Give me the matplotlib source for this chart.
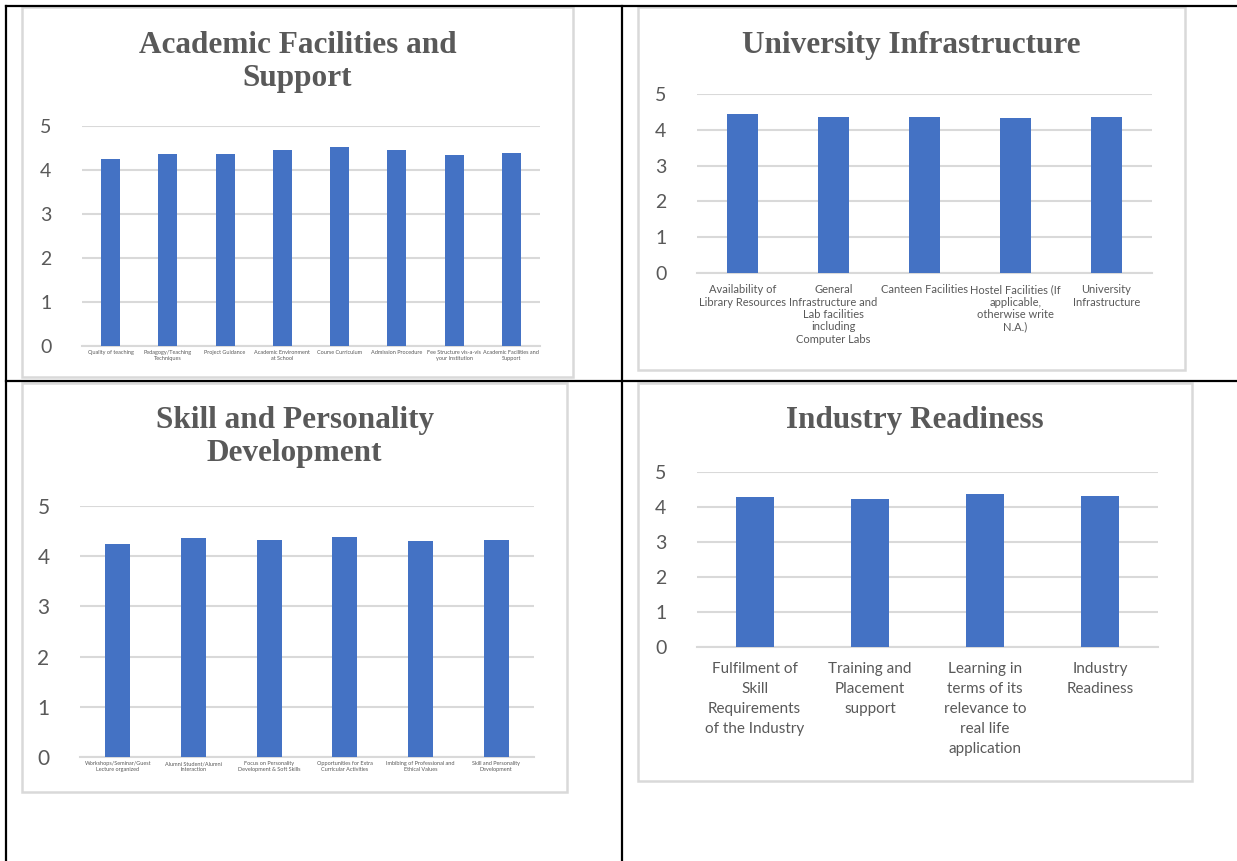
import matplotlib
matplotlib.use("Agg")
import matplotlib.pyplot as plt
from matplotlib.patches import Rectangle
from matplotlib.lines import Line2D

W, H = 1237, 861

# ---- data ----
acad_labels = ["Quality of teaching", "Pedagogy/Teaching\nTechniques", "Project Guidance",
               "Academic Environment\nat School", "Course Curriculum", "Admission Procedure",
               "Fee Structure vis-a-vis\nyour Institution", "Academic Facilities and\nSupport"]
acad_values = [4.25, 4.36, 4.36, 4.45, 4.53, 4.45, 4.33, 4.39]

infra_labels = ["Availability of\nLibrary Resources",
                "General\nInfrastructure and\nLab facilities\nincluding\nComputer Labs",
                "Canteen Facilities",
                "Hostel Facilities (If\napplicable,\notherwise write\nN.A.)",
                "University\nInfrastructure"]
infra_values = [4.44, 4.36, 4.36, 4.33, 4.36]

skill_labels = ["Workshops/Seminar/Guest\nLecture organized", "Alumni Student/Alumni\nInteraction",
                "Focus on Personality\nDevelopment & Soft Skills", "Opportunities for Extra\nCurricular Activities",
                "Imbibing of Professional and\nEthical Values", "Skill and Personality\nDevelopment"]
skill_values = [4.24, 4.36, 4.32, 4.38, 4.30, 4.32]

ind_labels = ["Fulfilment of\nSkill\nRequirements\nof the Industry", "Training and\nPlacement\nsupport",
              "Learning in\nterms of its\nrelevance to\nreal life\napplication", "Industry\nReadiness"]
ind_values = [4.29, 4.23, 4.37, 4.31]

BAR = "#4472C4"
GRID = "#D9D9D9"
TXT = "#595959"

fig = plt.figure(figsize=(W / 100, H / 100), dpi=100)
fig.patch.set_facecolor("white")


def fx(x):
    return x / W


def fy(y):
    return 1 - y / H


# table lines
for (x0, y0, x1, y1) in [(6, 6, 1237, 6), (6, 6, 6, 861), (622, 6, 622, 861), (6, 381, 1237, 381)]:
    fig.add_artist(Line2D([fx(x0), fx(x1)], [fy(y0), fy(y1)], color="black", lw=1.6))


def chart(box, plot, title, title_y, labels, values, ytick_size, xtick_size, label_pad, xls):
    bx0, by0, bx1, by1 = box
    fig.add_artist(Rectangle((fx(bx0), fy(by1)), fx(bx1 - bx0), (by1 - by0) / H,
                             fill=False, edgecolor=GRID, lw=1.8))
    fig.text(fx((bx0 + bx1) / 2), fy(title_y), title, ha="center", va="top",
             family="Liberation Serif", weight="bold", fontsize=22.5, color=TXT,
             linespacing=1.2)
    px0, py0, px1, py1 = plot
    ax = fig.add_axes([fx(px0), fy(py1), fx(px1 - px0), (py1 - py0) / H])
    x = range(len(values))
    ax.bar(x, values, width=0.33, color=BAR, zorder=3)
    ax.set_xlim(-0.5, len(values) - 0.5)
    ax.set_ylim(0, 5)
    ax.set_yticks(range(6))
    ax.yaxis.grid(True, color=GRID, lw=1.5, zorder=0)
    for s in ["top", "right", "left"]:
        ax.spines[s].set_visible(False)
    ax.spines["bottom"].set_color(GRID)
    ax.spines["bottom"].set_linewidth(1.5)
    ax.set_xticks(list(x))
    ax.set_xticklabels(labels, fontsize=xtick_size, color=TXT, family="Lato", linespacing=xls)
    ax.tick_params(axis="both", length=0)
    ax.tick_params(axis="x", pad=label_pad)
    ax.tick_params(axis="y", labelsize=ytick_size, labelcolor=TXT, pad=22)
    for t in ax.get_yticklabels():
        t.set_family("Lato")
    ax.set_facecolor("none")
    return ax


chart((22, 7, 573, 377), (82, 126, 540, 346), "Academic Facilities and\nSupport", 31,
      acad_labels, acad_values, 14, 4.0, 3, 1.2)
chart((638, 7, 1185, 370), (697, 94, 1152, 273), "University Infrastructure", 31,
      infra_labels, infra_values, 14, 8.0, 8, 1.16)
chart((22, 383, 567, 792), (80, 506, 534, 757), "Skill and Personality\nDevelopment", 406,
      skill_labels, skill_values, 15, 4.0, 3, 1.2)
chart((638, 383, 1192, 781), (697, 472, 1158, 647), "Industry Readiness", 406,
      ind_labels, ind_values, 14, 11, 11, 1.55)

fig.savefig("out.png", dpi=100)
